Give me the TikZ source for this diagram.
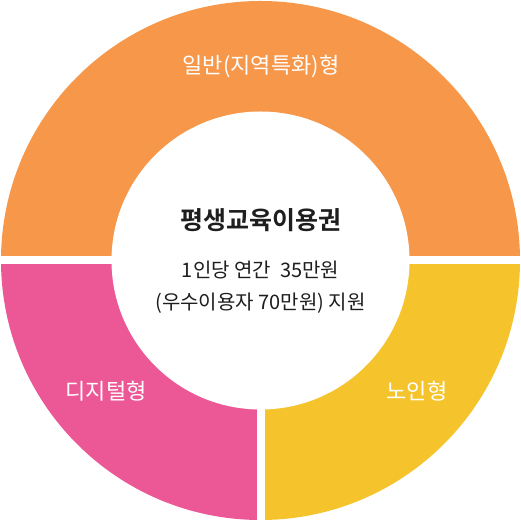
\documentclass[tikz,border=0pt]{standalone}
\usepackage{fontspec}
\setmainfont{Noto Sans CJK KR}[BoldFont={Noto Sans CJK KR Bold}]
\usepackage{tikz}

\definecolor{orangeseg}{RGB}{246,151,74}
\definecolor{pinkseg}{RGB}{236,87,150}
\definecolor{yellowseg}{RGB}{245,196,45}
\definecolor{textgray}{RGB}{30,30,30}

\begin{document}
\begin{tikzpicture}[x=1pt, y=1pt,
            label/.style = {text=white, font=\fontsize{22}{22}\selectfont},
            info/.style = {text=textgray, font=\fontsize{20}{20}\selectfont},
            gap/.style = {draw=white, line width=8pt}]
            \useasboundingbox (0,0) rectangle (521,521);
            \coordinate (C) at (260.5,260.5);

            % ring segments
            \fill[orangeseg] (520,260.5) arc[start angle=0, end angle=180, radius=259.5] -- cycle;
            \fill[pinkseg] (C) -- (1,260.5) arc[start angle=180, end angle=270, radius=259.5] -- cycle;
            \fill[yellowseg] (C) -- (260.5,1) arc[start angle=270, end angle=360, radius=259.5] -- cycle;
            \fill[white] (C) circle[radius=149];
            \path[gap] (0,260.5) -- (521,260.5);
            \path[gap] (C) -- (260.5,0);

            \node[label] (General) at (261,455) {일반(지역특화)형};
            \node[label] (Digital) at (106,130) {디지털형};
            \node[label] (Senior) at (417,130) {노인형};

            \node[text=textgray, font=\fontsize{25}{25}\selectfont\bfseries] (Voucher) at (260.5,301) {평생교육이용권};
            \node[info] (Amount) at (260.5,251) {1인당 연간~~35만원};
            \node[info] (Support) at (260.5,218) {(우수이용자 70만원) 지원};
        \end{tikzpicture}
\end{document}
